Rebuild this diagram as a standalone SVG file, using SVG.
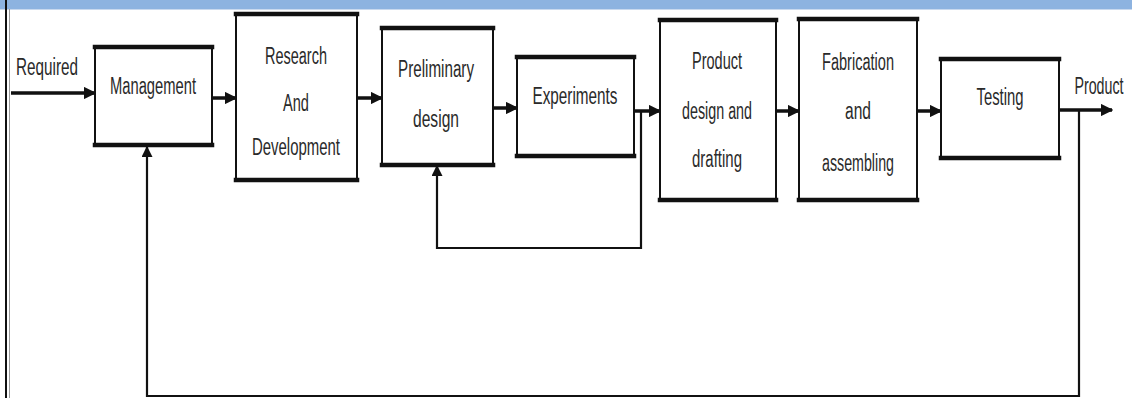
<svg xmlns="http://www.w3.org/2000/svg" width="1132" height="398" viewBox="0 0 1132 398">
<defs>
<style>
.box{fill:#fff;stroke:#111;stroke-width:2}
.edge{stroke:#111;stroke-width:4.5;stroke-linecap:square}
.lbl{font-family:"Liberation Sans",Arial,sans-serif;font-size:23px;fill:#2a2a2a;text-anchor:middle}
.flow{fill:none;stroke:#111;stroke-width:3.5}
.fb{fill:none;stroke:#111;stroke-width:2.2}
</style>
<marker id="ah" viewBox="0 0 10 10" refX="9" refY="5" markerWidth="3.6" markerHeight="3.6" orient="auto" markerUnits="strokeWidth">
<path d="M0,0 L10,5 L0,10 z" fill="#111"/>
</marker>
<marker id="ahs" viewBox="0 0 10 10" refX="9" refY="5" markerWidth="5" markerHeight="5" orient="auto" markerUnits="strokeWidth">
<path d="M0,0 L10,5 L0,10 z" fill="#111"/>
</marker>
</defs>
<rect x="0" y="0" width="1132" height="398" fill="#fff"/>
<rect x="0" y="0" width="1132" height="9" fill="#8db3e0"/>
<line x1="0" y1="9.5" x2="1132" y2="9.5" stroke="#c9d9ee" stroke-width="1"/>
<line x1="6" y1="0" x2="6" y2="398" stroke="#111" stroke-width="2"/>
<line x1="9.5" y1="9" x2="9.5" y2="398" stroke="#9a9a9a" stroke-width="1"/>

<g id="connectors">
<line class="flow" x1="11" y1="93" x2="95" y2="93" marker-end="url(#ah)"/>
<line class="flow" x1="212" y1="98" x2="236" y2="98" marker-end="url(#ah)"/>
<line class="flow" x1="357" y1="98" x2="382" y2="98" marker-end="url(#ah)"/>
<line class="flow" x1="493" y1="108" x2="517" y2="108" marker-end="url(#ah)"/>
<line class="flow" x1="634" y1="111" x2="660" y2="111" marker-end="url(#ah)"/>
<line class="flow" x1="776" y1="111" x2="799" y2="111" marker-end="url(#ah)"/>
<line class="flow" x1="917" y1="111" x2="941" y2="111" marker-end="url(#ah)"/>
<line class="flow" x1="1059" y1="110" x2="1112" y2="110" marker-end="url(#ah)"/>
<polyline class="fb" points="641,111 641,248 437,248 437,166" marker-end="url(#ahs)"/>
<polyline class="fb" points="1079,110 1079,396 147,396 147,147" marker-end="url(#ahs)"/>
</g>

<g id="label-required"><text class="lbl" x="47" y="75" textLength="62" lengthAdjust="spacingAndGlyphs">Required</text></g>
<g id="label-product"><text class="lbl" transform="translate(1099,94) scale(0.62,1)" x="0" y="0">Product</text></g>

<g id="management">
<rect class="box" x="95" y="47" width="117" height="98"/>
<line class="edge" x1="95" y1="47" x2="212" y2="47"/><line class="edge" x1="95" y1="145" x2="212" y2="145"/>
<text class="lbl" x="153" y="94" textLength="86" lengthAdjust="spacingAndGlyphs">Management</text>
</g>

<g id="research">
<rect class="box" x="236" y="14" width="121" height="166"/>
<line class="edge" x1="236" y1="14" x2="357" y2="14"/><line class="edge" x1="236" y1="180" x2="357" y2="180"/>
<text class="lbl" x="296" y="64" textLength="62" lengthAdjust="spacingAndGlyphs">Research</text>
<text class="lbl" x="296" y="111" textLength="26" lengthAdjust="spacingAndGlyphs">And</text>
<text class="lbl" x="296" y="155" textLength="88" lengthAdjust="spacingAndGlyphs">Development</text>
</g>

<g id="preliminary">
<rect class="box" x="382" y="28" width="111" height="137"/>
<line class="edge" x1="382" y1="28" x2="493" y2="28"/><line class="edge" x1="382" y1="165" x2="493" y2="165"/>
<text class="lbl" x="436" y="77" textLength="76" lengthAdjust="spacingAndGlyphs">Preliminary</text>
<text class="lbl" x="436" y="127" textLength="46" lengthAdjust="spacingAndGlyphs">design</text>
</g>

<g id="experiments">
<rect class="box" x="517" y="57" width="117" height="99"/>
<line class="edge" x1="517" y1="57" x2="634" y2="57"/><line class="edge" x1="517" y1="156" x2="634" y2="156"/>
<text class="lbl" x="575" y="104" textLength="85" lengthAdjust="spacingAndGlyphs">Experiments</text>
</g>

<g id="product-design">
<rect class="box" x="660" y="20" width="116" height="180"/>
<line class="edge" x1="660" y1="20" x2="776" y2="20"/><line class="edge" x1="660" y1="200" x2="776" y2="200"/>
<text class="lbl" x="717" y="69" textLength="50" lengthAdjust="spacingAndGlyphs">Product</text>
<text class="lbl" x="717" y="119" textLength="70" lengthAdjust="spacingAndGlyphs">design and</text>
<text class="lbl" x="717" y="167" textLength="50" lengthAdjust="spacingAndGlyphs">drafting</text>
</g>

<g id="fabrication">
<rect class="box" x="799" y="19" width="118" height="181"/>
<line class="edge" x1="799" y1="19" x2="917" y2="19"/><line class="edge" x1="799" y1="200" x2="917" y2="200"/>
<text class="lbl" x="858" y="70" textLength="72" lengthAdjust="spacingAndGlyphs">Fabrication</text>
<text class="lbl" x="858" y="119" textLength="26" lengthAdjust="spacingAndGlyphs">and</text>
<text class="lbl" x="858" y="171" textLength="72" lengthAdjust="spacingAndGlyphs">assembling</text>
</g>

<g id="testing">
<rect class="box" x="941" y="59" width="118" height="99"/>
<line class="edge" x1="941" y1="59" x2="1059" y2="59"/><line class="edge" x1="941" y1="158" x2="1059" y2="158"/>
<text class="lbl" x="1000" y="105" textLength="47" lengthAdjust="spacingAndGlyphs">Testing</text>
</g>
</svg>
